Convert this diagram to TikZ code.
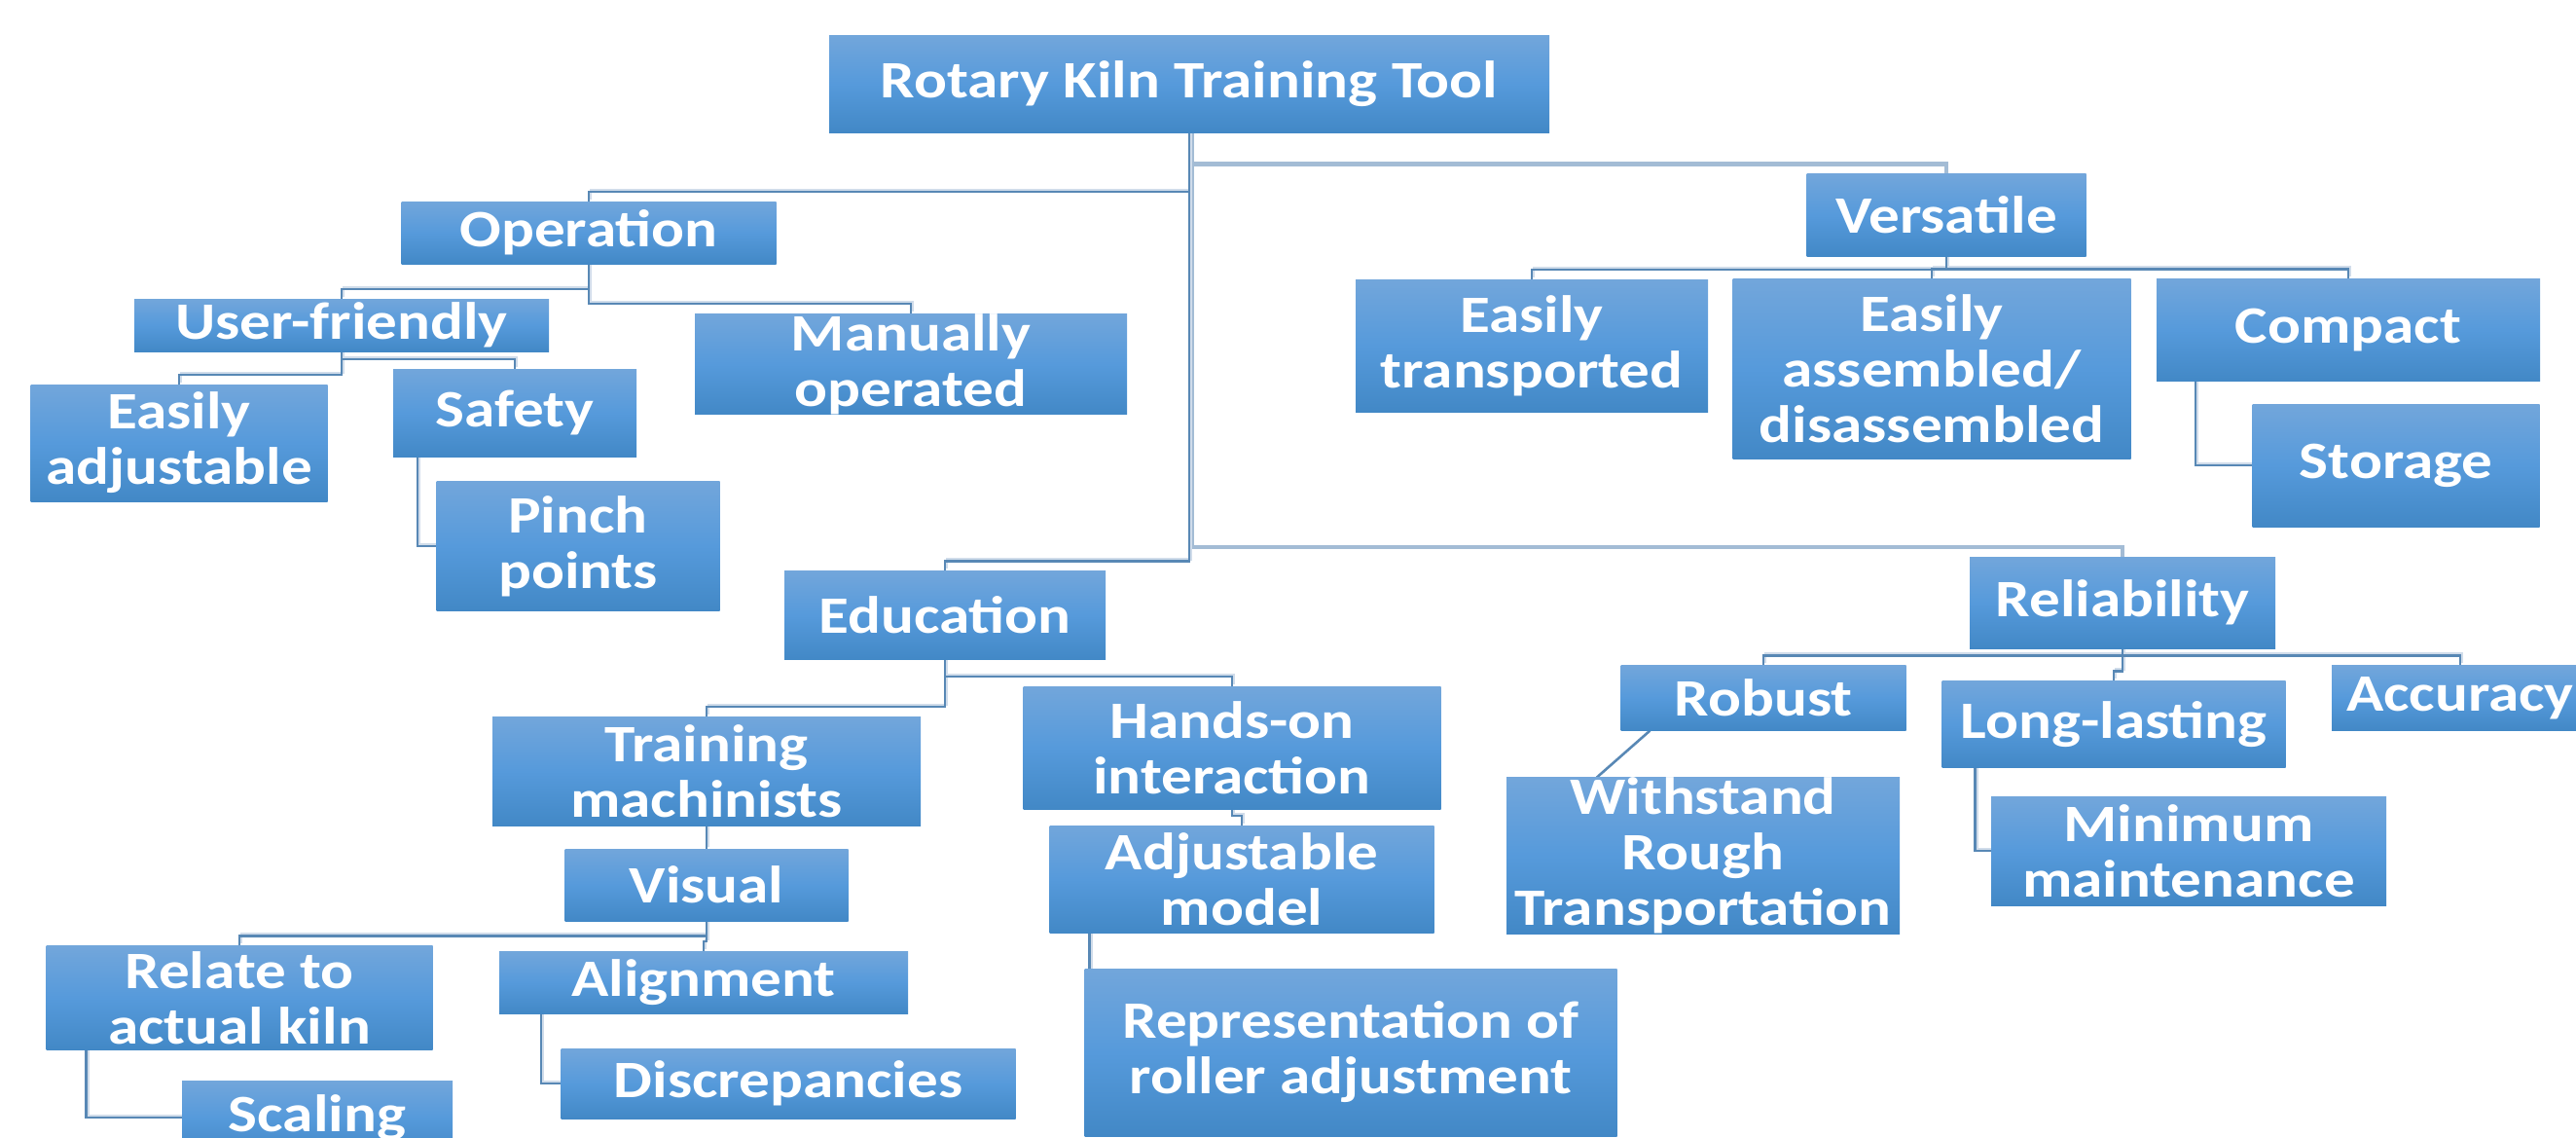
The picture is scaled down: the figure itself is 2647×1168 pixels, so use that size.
\documentclass[tikz,border=0pt]{standalone}
\usepackage{fontspec}
\setmainfont{Carlito}[FakeStretch=1.17]
\usetikzlibrary{calc,backgrounds}
\definecolor{boxtop}{RGB}{114,166,219}
\definecolor{boxmid}{RGB}{86,154,219}
\definecolor{boxbot}{RGB}{66,136,198}
\definecolor{linkdark}{RGB}{88,136,181}
\definecolor{linklight}{RGB}{163,188,213}
\definecolor{linkshade}{RGB}{208,220,234}

\tikzset{
  box/.style={rectangle, inner sep=0pt, align=center, text=white,
    top color=boxtop, bottom color=boxbot, middle color=boxmid,
    font=\bfseries\fontsize{54}{57}\selectfont},
  link/.style={draw=linkdark, line width=2.5pt,
    preaction={draw=linkshade, line width=2.5pt, transform canvas={shift={(2pt,2pt)}}}},
  linkmain/.style={draw=linklight, line width=4.5pt},
  elbow/.style={to path={|- ($(\tikztotarget)+(0,-10)$) -| (\tikztotarget)}},
  hang/.style={to path={|- (\tikztotarget)}}
}

\begin{document}
\begin{tikzpicture}[x=1pt,y=-1pt]
    \useasboundingbox (0,0) rectangle (2647,1168);

    % top level
    \node[box, minimum width=740, minimum height=100] (root) at (1222,86) {Rotary Kiln Training Tool};

    % operation branch
    \node[box, minimum width=385, minimum height=64] (oper) at (605,239) {Operation};
    \node[box, minimum width=426, minimum height=54] (user) at (351,334) {User-friendly};
    \node[box, minimum width=444, minimum height=102] (manual) at (936,374) {Manually\\operated};
    \node[box, minimum width=305, minimum height=120] (easyadj) at (184,455) {Easily\\adjustable};
    \node[box, minimum width=250, minimum height=90] (safety) at (529,424) {Safety};
    \node[box, minimum width=291, minimum height=133] (pinch) at (594,561) {Pinch\\points};

    % education branch
    \node[box, minimum width=330, minimum height=91] (edu) at (971,632) {Education};
    \node[box, minimum width=440, minimum height=112] (train) at (726,792) {Training\\machinists};
    \node[box, minimum width=291, minimum height=74] (visual) at (726,909) {Visual};
    \node[box, minimum width=397, minimum height=107] (relate) at (246,1025) {Relate to\\actual kiln};
    \node[box, minimum width=278, minimum height=76] (scaling) at (326,1148) {Scaling};
    \node[box, minimum width=420, minimum height=64] (align) at (723,1009) {Alignment};
    \node[box, minimum width=467, minimum height=72] (discr) at (810,1113) {Discrepancies};
    \node[box, minimum width=429, minimum height=126] (handson) at (1266,768) {Hands-on\\interaction};
    \node[box, minimum width=395, minimum height=110] (adjm) at (1276,903) {Adjustable\\model};
    \node[box, minimum width=547, minimum height=172] (repr) at (1388,1081) {Representation of\\roller adjustment};

    % versatile branch
    \node[box, minimum width=287, minimum height=85] (vers) at (2000,221) {Versatile};
    \node[box, minimum width=362, minimum height=136] (etrans) at (1574,355) {Easily\\transported};
    \node[box, minimum width=409, minimum height=185] (eassem) at (1985,379) {Easily\\assembled/\\disassembled};
    \node[box, minimum width=394, minimum height=105] (compact) at (2413,339) {Compact};
    \node[box, minimum width=295, minimum height=126] (storage) at (2462,478) {Storage};

    % reliability branch
    \node[box, minimum width=314, minimum height=94] (reli) at (2181,619) {Reliability};
    \node[box, minimum width=293, minimum height=67] (robust) at (1812,717) {Robust};
    \node[box, minimum width=353, minimum height=89] (longl) at (2172,744) {Long-lasting};
    \node[box, minimum width=264, minimum height=67] (accur) at (2528,717) {Accuracy};
    \node[box, minimum width=404, minimum height=159] (withst) at (1750,879) {Withstand\\Rough\\Transportation};
    \node[box, minimum width=406, minimum height=112] (minm) at (2249,874) {Minimum\\maintenance};

    \begin{pgfonlayer}{background}
    \draw[linkmain] ($(root.south)+(3,0)$) to[elbow] (vers.north);
    \draw[linkmain] ($(root.south)+(3,0)$) to[elbow] (reli.north);
    \draw[link] (root.south) to[elbow] (oper.north);
    \draw[link] (root.south) to[elbow] (edu.north);

    \draw[link] (oper.south) to[elbow] (user.north);
    \draw[link] (oper.south) to[elbow] (manual.north);
    \draw[link] (user.south) to[elbow] (easyadj.north);
    \draw[link] (user.south) to[elbow] (safety.north);
    \draw[link] ($(safety.south west)+(25,0)$) to[hang] (pinch.west);

    \draw[link] (edu.south) to[elbow] (train.north);
    \draw[link] (edu.south) to[elbow] (handson.north);
    \draw[link] (train.south) to[elbow] (visual.north);
    \draw[link] (visual.south) to[elbow] (relate.north);
    \draw[link] (visual.south) to[elbow] (align.north);
    \draw[link] ($(relate.south west)+(41,0)$) to[hang] (scaling.west);
    \draw[link] ($(align.south west)+(43,0)$) to[hang] (discr.west);
    \draw[link] (handson.south) to[elbow] (adjm.north);
    \draw[link] ($(adjm.south west)+(41,0)$) to[hang] (repr.west);

    \draw[link] (vers.south) to[elbow] (etrans.north);
    \draw[link] (vers.south) to[elbow] (eassem.north);
    \draw[link] (vers.south) to[elbow] (compact.north);
    \draw[link] ($(compact.south west)+(40,0)$) to[hang] (storage.west);

    \draw[link] (reli.south) to[elbow] (robust.north);
    \draw[link] (reli.south) to[elbow] (longl.north);
    \draw[link] (reli.south) to[elbow] (accur.north);
    \draw[link] ($(robust.south west)+(30,0)$) -- ($(withst.north west)+(93,0)$);
    \draw[link] ($(longl.south west)+(34,0)$) to[hang] (minm.west);
    \end{pgfonlayer}
\end{tikzpicture}
\end{document}
